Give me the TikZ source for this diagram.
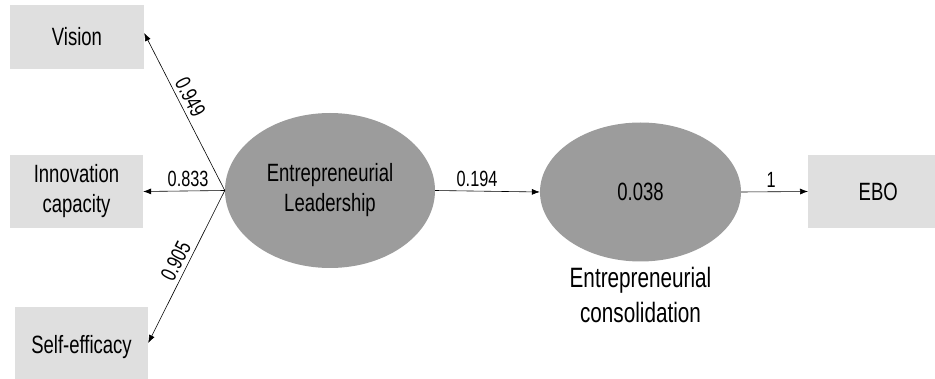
\documentclass[tikz,border=0pt]{standalone}
\usepackage{fontspec}
\setmainfont[FakeStretch=0.74]{Liberation Sans}
\usetikzlibrary{arrows.meta,shapes.geometric}

\begin{document}
\begin{tikzpicture}[x=1pt,y=-1pt,
  font=\fontsize{25}{30}\selectfont,
  indicator/.style={fill=gray!25,inner sep=0pt,align=center},
  latent/.style={ellipse,fill=gray!78!white,inner sep=0pt,align=center},
  link/.style={-{Latex[length=8pt,width=6pt]},line width=0.6pt},
  weight/.style={font=\fontsize{22}{26}\selectfont,inner sep=4pt}]
\useasboundingbox (0,0) rectangle (935,379);
\node[indicator,minimum width=134,minimum height=64] (vision) at (77,37) {Vision};
\node[indicator,minimum width=133,minimum height=73] (innov) at (76.5,191.5) {Innovation\\capacity};
\node[indicator,minimum width=133,minimum height=80] (self) at (81.5,347) {Self-efficacy};
\node[latent,minimum width=210,minimum height=155] (lead) at (330,190.5) {Entrepreneurial\\Leadership};
\node[latent,minimum width=201,minimum height=139] (cons) at (640.5,192) {0.038};
\node[below=2pt,align=center,font=\fontsize{28}{35}\selectfont] (conslabel) at (cons.south) {Entrepreneurial\\consolidation};
\node[indicator,minimum width=140,minimum height=73,anchor=west] (ebo) at (808,191.5) {EBO};
\draw[link] (lead.west) -- (vision.east |- 0,33) node[weight,sloped,above,pos=0.56] {0.949};
\draw[link] (lead.west) -- (innov.east) node[weight,above,pos=0.45] {0.833};
\draw[link] (lead.west) -- (self.east |- 0,343) node[weight,sloped,above,pos=0.5] {0.905};
\draw[link] (lead.east) -- (cons.west) node[weight,above,pos=0.4] {0.194};
\draw[link] (cons.east) -- (ebo.west) node[weight,above,pos=0.45] {1};
\end{tikzpicture}
\end{document}
